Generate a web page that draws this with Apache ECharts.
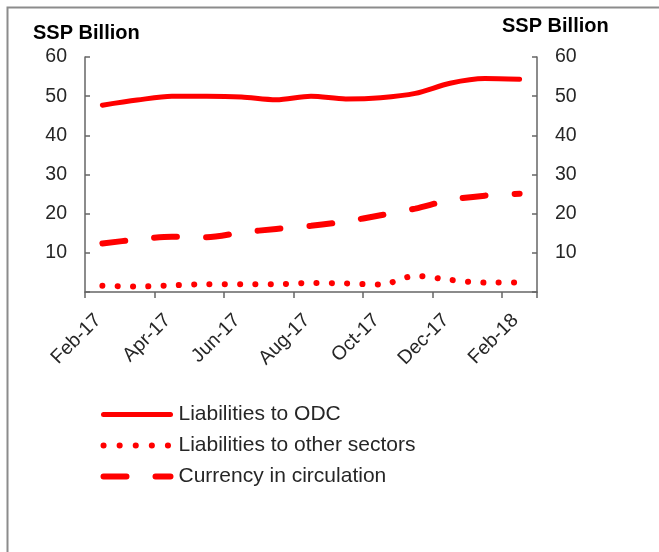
<!DOCTYPE html>
<html>
<head>
<meta charset="utf-8">
<style>
  html, body { margin: 0; padding: 0; background: #fff; }
  #chart { width: 659px; height: 552px; }
</style>
<script src="https://cdn.jsdelivr.net/npm/echarts@6/dist/echarts.min.js"></script>
</head>
<body>
<div id="chart"></div>
<script>
const categories = ['Feb-17','Mar-17','Apr-17','May-17','Jun-17','Jul-17','Aug-17','Sep-17','Oct-17','Nov-17','Dec-17','Jan-18','Feb-18'];
const liabilitiesODC = [47.7, 49.0, 50.0, 50.0, 49.8, 49.1, 50.0, 49.3, 49.6, 50.7, 53.3, 54.5, 54.3];
const liabilitiesOther = [1.6, 1.4, 1.7, 2.0, 2.0, 2.0, 2.3, 2.2, 1.9, 4.1, 3.1, 2.4, 2.4];
const currency = [12.4, 13.4, 14.1, 14.0, 15.2, 16.1, 16.9, 18.0, 19.6, 21.3, 23.5, 24.6, 25.1];
const yTicks = { min: 0, max: 60, interval: 10 };

const chart = echarts.init(document.getElementById('chart'));
const font = 'Arial, "Liberation Sans", sans-serif';
const axisColor = '#666666';
const textColor = '#262626';
const red = '#ff0000';

const solidStyle = { color: red, width: 5, cap: 'round', type: 'solid' };
const dotStyle = { color: red, width: 6, type: [0.1, 16], cap: 'round' };
const dashStyle = { color: red, width: 6, type: [23, 29], cap: 'round' };

const yAxisCommon = {
  type: 'value',
  min: yTicks.min, max: yTicks.max, interval: yTicks.interval,
  splitLine: { show: false },
  axisLine: { show: true, lineStyle: { color: axisColor, width: 1.5 } },
  axisTick: { show: true, inside: true, length: 5, lineStyle: { color: axisColor, width: 1.5 } },
  axisLabel: {
    color: textColor, fontSize: 19.5, fontFamily: font, margin: 18,
    formatter: v => v === 0 ? '' : String(v)
  }
};

chart.setOption({
  animation: false,
  graphic: [{
    type: 'rect', shape: { x: 7.5, y: 7.5, width: 800, height: 700 },
    style: { fill: 'none', stroke: '#8c8c8c', lineWidth: 2 }, silent: true
  }],
  title: [
    { text: 'SSP Billion', left: 33, top: 23, padding: 0, textStyle: { fontSize: 20, fontWeight: 'bold', color: '#000', fontFamily: font } },
    { text: 'SSP Billion', left: 502, top: 16, padding: 0, textStyle: { fontSize: 20, fontWeight: 'bold', color: '#000', fontFamily: font } }
  ],
  grid: { left: 85, right: 122, top: 57, bottom: 260, containLabel: false },
  legend: {
    orient: 'vertical', left: 100.5, top: 404, padding: 0,
    itemWidth: 67, itemHeight: 20, itemGap: 10,
    itemStyle: { opacity: 0 },
    textStyle: { fontSize: 21, color: textColor, fontFamily: font, lineHeight: 20, padding: [0, 0, 0, 3] },
    data: [
      { name: 'Liabilities to ODC', lineStyle: solidStyle, itemStyle: { opacity: 0 } },
      { name: 'Liabilities to other sectors', lineStyle: dotStyle, itemStyle: { opacity: 0 } },
      { name: 'Currency in circulation', lineStyle: dashStyle, itemStyle: { opacity: 0 } }
    ]
  },
  xAxis: {
    type: 'category', data: categories, boundaryGap: true,
    axisLine: { lineStyle: { color: axisColor, width: 1.5 } },
    axisTick: { show: true, interval: 1, length: 6, lineStyle: { color: axisColor, width: 1.5 } },
    axisLabel: { interval: 1, rotate: 45, color: textColor, fontSize: 19.5, fontFamily: font, margin: 21, padding: [0, 6, 0, 0] }
  },
  yAxis: [
    Object.assign({}, yAxisCommon, { position: 'left' }),
    Object.assign({}, yAxisCommon, { position: 'right' })
  ],
  series: [
    { name: 'Liabilities to ODC', type: 'line', data: liabilitiesODC, smooth: 0.3, symbol: 'none', lineStyle: solidStyle, itemStyle: { color: red } },
    { name: 'Liabilities to other sectors', type: 'line', data: liabilitiesOther, smooth: 0.3, symbol: 'none', lineStyle: { color: red, width: 6, type: [0.1, 15.2], cap: 'round' }, itemStyle: { color: red } },
    { name: 'Currency in circulation', type: 'line', data: currency, smooth: 0.3, symbol: 'none', lineStyle: dashStyle, itemStyle: { color: red } }
  ]
});
</script>
</body>
</html>
